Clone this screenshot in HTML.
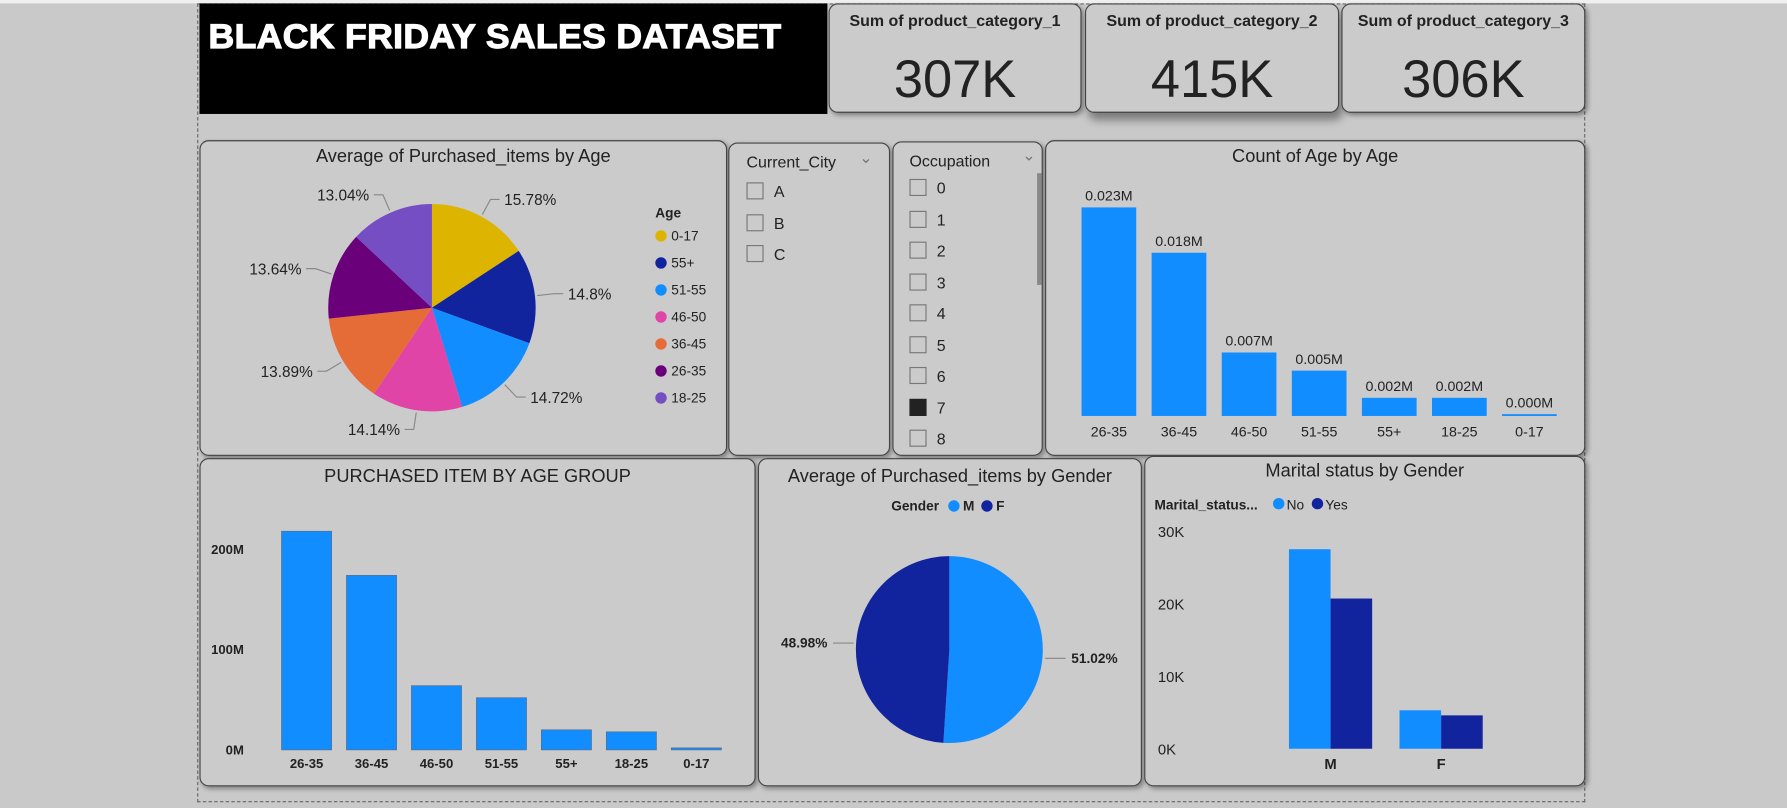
<!DOCTYPE html>
<html><head><meta charset="utf-8"><style>
html,body{margin:0;padding:0;background:#c9c9c9;overflow:hidden;}
body{width:1787px;height:808px;font-family:"Liberation Sans",sans-serif;}
#root{position:absolute;left:0;top:0;width:1568px;height:709px;transform-origin:0 0;transform:scale(1.13967,1.13963);}
.abs{position:absolute;}
.panel{position:absolute;background:#cbcbcb;border:1px solid #444;border-radius:8px;box-shadow:2px 2px 4px rgba(0,0,0,.35);box-sizing:border-box;}
.card .t{position:absolute;left:0;right:0;top:6px;text-align:center;font-weight:bold;font-size:14px;color:#222;}
.card .v{position:absolute;left:0;right:0;top:38px;text-align:center;font-size:46px;color:#222;}
.ptitle{position:absolute;left:0;right:0;text-align:center;font-size:16px;color:#222;}
.item{position:absolute;font-size:14px;color:#222;}
.box{display:inline-block;width:13px;height:13px;border:1px solid #777;vertical-align:-2px;margin-right:9px;}
svg text{font-family:"Liberation Sans",sans-serif;}
</style></head><body>
<div id="root">
<div class="abs" style="left:0;top:0;width:1568px;height:3px;background:#f0f0f0"></div>
<div class="abs" style="left:173px;top:3px;width:1218px;height:701px;border:1px dashed #666;box-sizing:border-box"></div>
<div class="abs" style="left:175px;top:3px;width:551px;height:97px;background:#000;overflow:hidden"><div style="position:absolute;left:8px;top:13px;color:#fff;font-weight:900;font-size:30px;font-family:'Liberation Sans',sans-serif;letter-spacing:0.3px;transform-origin:0 0;transform:scaleX(1.04);white-space:nowrap;-webkit-text-stroke:1px #fff">BLACK FRIDAY SALES DATASET</div></div>
<div class="panel card" style="left:727px;top:3px;width:222px;height:96px"><div class="t">Sum of product_category_1</div><div class="v">307K</div></div>
<div class="panel card" style="left:952px;top:3px;width:223px;height:96px;box-shadow:3px 6px 8px rgba(0,0,0,.4)"><div class="t">Sum of product_category_2</div><div class="v">415K</div></div>
<div class="panel card" style="left:1177px;top:3px;width:214px;height:96px"><div class="t">Sum of product_category_3</div><div class="v">306K</div></div>

<div class="panel" style="left:175px;top:123px;width:463px;height:277px"><div class="ptitle" style="top:5px">Average of Purchased_items by Age</div></div>
<div class="panel" style="left:639px;top:125px;width:142px;height:275px">
<div class="item" style="left:15px;top:8px">Current_City</div><div class="item" style="left:114px;top:4px;color:#777">⌄</div>
<div class="item" style="left:15px;top:34px"><span class="box"></span>A</div>
<div class="item" style="left:15px;top:62px"><span class="box"></span>B</div>
<div class="item" style="left:15px;top:89px"><span class="box"></span>C</div></div>
<div class="panel" style="left:783px;top:124px;width:132px;height:276px;overflow:hidden">
<div class="item" style="left:14px;top:8px">Occupation</div><div class="item" style="left:113px;top:3px;color:#777">⌄</div>
<div class="abs" style="left:126px;top:27px;width:5px;height:98px;background:#888"></div>
<div id="occ"></div></div>
<div class="panel" style="left:917px;top:123px;width:474px;height:277px"><div class="ptitle" style="top:5px">Count of Age by Age</div></div>
<div class="panel" style="left:175px;top:402px;width:488px;height:288px"><div class="ptitle" style="top:7px">PURCHASED ITEM BY AGE GROUP</div></div>
<div class="panel" style="left:665px;top:402px;width:337px;height:288px"><div class="ptitle" style="top:7px">Average of Purchased_items by Gender</div></div>
<div class="panel" style="left:1004px;top:400px;width:387px;height:290px"><div class="ptitle" style="top:4px">Marital status by Gender</div></div>

<svg id="svg" class="abs" style="left:0;top:0" width="1568" height="709"></svg>
</div>
<script>
// Pie by age
const ageCats=["0-17","55+","51-55","46-50","36-45","26-35","18-25"];
const agePct=[15.78,14.8,14.72,14.14,13.89,13.64,13.04];
const ageColors=["#DDB400","#12239E","#118DFF","#E044A7","#E66C37","#6B007B","#744EC2"];
// Count of age
const cntCats=["26-35","36-45","46-50","51-55","55+","18-25","0-17"];
const cntVals=[0.023,0.018,0.007,0.005,0.002,0.002,0.0002];
const cntLabels=["0.023M","0.018M","0.007M","0.005M","0.002M","0.002M","0.000M"];
// Purchased items by age group (M)
const purCats=["26-35","36-45","46-50","51-55","55+","18-25","0-17"];
const purVals=[218,174,64,52,20,18,2];
const purTicks=[0,100,200];
// Gender pie
const genCats=["M","F"];
const genPct=[51.02,48.98];
// Marital by gender (K)
const marCats=["M","F"];
const marNo=[27.5,5.3];
const marYes=[20.7,4.6];
const marTicks=[0,10,20,30];
const occVals=["0","1","2","3","4","5","6","7","8"];

const NS="http://www.w3.org/2000/svg";
const svg=document.getElementById('svg');
function mk(tag,a,parent){const e=document.createElementNS(NS,tag);for(const k in a)e.setAttribute(k,a[k]);(parent||svg).appendChild(e);return e;}
function txt(x,y,s,a){const e=mk('text',Object.assign({x:x,y:y,'font-size':13,fill:'#222'},a||{}));e.textContent=s;return e;}

const occ=document.getElementById('occ');
occVals.forEach((v,i)=>{const d=document.createElement('div');d.className='item';d.style.left='14px';d.style.top=(32+i*27.5)+'px';
d.innerHTML='<span class="box"'+(v==="7"?' style="background:#222;border-color:#222"':'')+'></span>'+v;


occ.appendChild(d);});

function pie(cx,cy,r,vals,colors,names,labelFn){
 const tot=vals.reduce((a,b)=>a+b,0);let a0=0;
 vals.forEach((v,i)=>{const a1=a0+v/tot*2*Math.PI;
  const p=t=>[cx+r*Math.sin(t),cy-r*Math.cos(t)];
  const [x0,y0]=p(a0),[x1,y1]=p(a1);
  const el=mk('path',{d:`M${cx},${cy}L${x0},${y0}A${r},${r} 0 ${a1-a0>Math.PI?1:0} 1 ${x1},${y1}Z`,fill:colors[i]});
  
  
  labelFn(i,(a0+a1)/2);a0=a1;});
}
pie(379,270,91,agePct,ageColors,ageCats,(i,m)=>{
 const sx=379+93*Math.sin(m),sy=270-93*Math.cos(m);const ex=379+108*Math.sin(m),ey=270-108*Math.cos(m);
 const right=Math.sin(m)>0;const hx=ex+(right?8:-8);
 mk('polyline',{points:`${sx},${sy} ${ex},${ey} ${hx},${ey}`,fill:'none',stroke:'#888','stroke-width':1});
 const t=txt(hx+(right?4:-4),ey+5,agePct[i]+'%',{'font-size':13.5,'text-anchor':right?'start':'end'});
 
 
});
txt(575,191,'Age',{'font-weight':'bold','font-size':12});
ageCats.forEach((c,i)=>{const y=207+i*23.7;mk('circle',{cx:580,cy:y,r:5,fill:ageColors[i]});
 const t=txt(589,y+4,c,{'font-size':12});});

{const base=365,k=183/0.023,x0=949,step=61.5,w=48;
cntVals.forEach((v,i)=>{const h=Math.max(v*k,1.5),x=x0+i*step;
 const r=mk('rect',{x:x,y:base-h,width:w,height:h,fill:'#118DFF'});
 
 txt(x+w/2,base-h-6,cntLabels[i],{'text-anchor':'middle','font-size':12.5});
 txt(x+w/2,383,cntCats[i],{'text-anchor':'middle','font-size':12.5});});}

{const base=658,k=176/200,x0=247,step=57,w=44;
purTicks.forEach(t=>txt(214,base-t*k+4,t+'M',{'text-anchor':'end','font-size':11.5,'font-weight':'bold'}));
purVals.forEach((v,i)=>{const h=v*k,x=x0+i*step;
 const r=mk('rect',{x:x,y:base-h,width:w,height:h,fill:'#118DFF',stroke:'#5a6f88','stroke-width':0.6});
 
 txt(x+w/2,674,purCats[i],{'text-anchor':'middle','font-size':11.5,'font-weight':'bold'});});}

txt(782,448,'Gender',{'font-weight':'bold','font-size':12});
mk('circle',{cx:837,cy:444,r:5,fill:'#118DFF'});txt(845,448,'M',{'font-weight':'bold','font-size':12});
mk('circle',{cx:866,cy:444,r:5,fill:'#12239E'});txt(874,448,'F',{'font-weight':'bold','font-size':12});
pie(833,570,82,genPct,['#118DFF','#12239E'],genCats,(i,m)=>{
 const right=Math.sin(m)>0;const y=570-84*Math.cos(m)+(right?5:-3);
 const sx=right?917:749,ex=right?935:731;
 mk('line',{x1:sx,y1:y,x2:ex,y2:y,stroke:'#888'});
 txt(right?940:726,y+4,genPct[i].toFixed(2)+'%',{'font-size':12,'font-weight':'bold','text-anchor':right?'start':'end'});});

txt(1013,447,'Marital_status...',{'font-weight':'bold','font-size':12});
mk('circle',{cx:1122,cy:442,r:5,fill:'#118DFF'});txt(1129,447,'No',{'font-size':12});
mk('circle',{cx:1156,cy:442,r:5,fill:'#12239E'});txt(1163,447,'Yes',{'font-size':12});
{const base=657,k=191/30,x0=1131,step=97,w=36.5;
marTicks.forEach(t=>txt(1016,base-t*k+5,t+'K',{'font-size':13}));
marCats.forEach((c,i)=>{const x=x0+i*step;
 const a=mk('rect',{x:x,y:base-marNo[i]*k,width:w,height:marNo[i]*k,fill:'#118DFF'});
 
 const b=mk('rect',{x:x+w,y:base-marYes[i]*k,width:w,height:marYes[i]*k,fill:'#12239E'});
 
 txt(x+w,675,c,{'text-anchor':'middle','font-size':13,'font-weight':'bold'});});}
</script>
</body></html>
